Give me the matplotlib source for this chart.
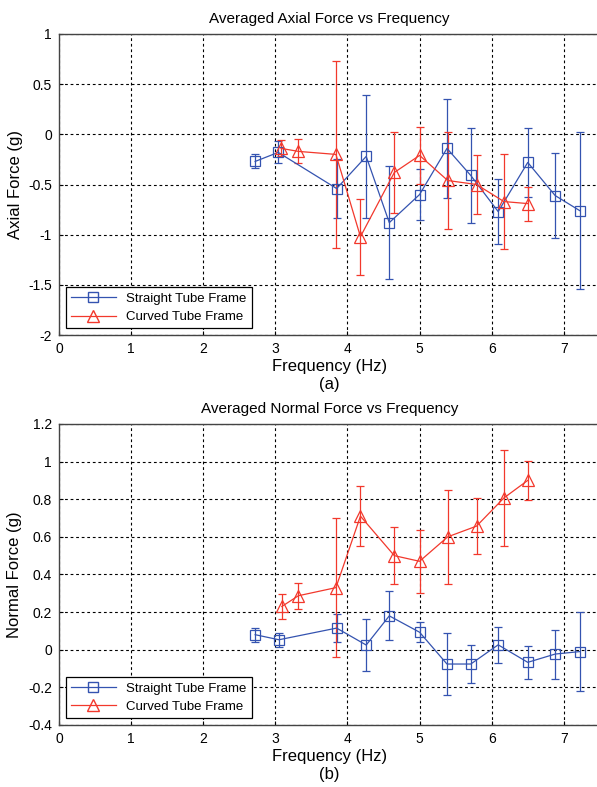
import matplotlib; matplotlib.use("Agg")
import matplotlib.pyplot as plt
from matplotlib.lines import Line2D

plt.rcParams["font.family"] = ["Liberation Sans", "DejaVu Sans"]

BLUE, RED = "#3453b0", "#f2382c"

# (a) axial force
ax_f_straight = [2.72, 3.04, 3.85, 4.26, 4.58, 5.00, 5.38, 5.71, 6.09, 6.50, 6.88, 7.22]
ax_straight = [-0.27, -0.18, -0.54, -0.22, -0.88, -0.60, -0.14, -0.41, -0.77, -0.28, -0.61, -0.76]
ax_straight_err = [0.07, 0.11, 0.29, 0.61, 0.56, 0.25, 0.49, 0.47, 0.32, 0.34, 0.42, 0.78]
ax_f_curved = [3.08, 3.32, 3.84, 4.18, 4.65, 5.00, 5.39, 5.79, 6.17, 6.50]
ax_curved = [-0.14, -0.17, -0.20, -1.02, -0.38, -0.21, -0.46, -0.50, -0.67, -0.69]
ax_curved_err = [0.08, 0.12, 0.93, 0.38, 0.40, 0.28, 0.48, 0.29, 0.47, 0.17]

# (b) normal force
nm_f_straight = [2.72, 3.05, 3.85, 4.26, 4.58, 5.00, 5.38, 5.71, 6.09, 6.50, 6.88, 7.22]
nm_straight = [0.08, 0.053, 0.115, 0.025, 0.18, 0.093, -0.076, -0.076, 0.026, -0.067, -0.023, -0.01]
nm_straight_err = [0.037, 0.037, 0.073, 0.137, 0.13, 0.053, 0.165, 0.10, 0.095, 0.087, 0.13, 0.21]
nm_f_curved = [3.09, 3.32, 3.84, 4.18, 4.65, 5.00, 5.39, 5.79, 6.17, 6.50]
nm_curved = [0.23, 0.287, 0.33, 0.71, 0.50, 0.47, 0.60, 0.657, 0.807, 0.90]
nm_curved_err = [0.066, 0.069, 0.37, 0.16, 0.15, 0.167, 0.25, 0.15, 0.255, 0.103]

LABELS = ["Straight Tube Frame", "Curved Tube Frame"]


def panel(ax, fs, s, se, fc, c, ce, title, ylabel, ylim, yticks, tag):
    kw = dict(lw=0.9, elinewidth=0.9, capsize=3, capthick=0.9, mfc="none", mew=0.9)
    ax.errorbar(fs, s, yerr=se, color=BLUE, marker="s", ms=7, **kw)
    ax.errorbar(fc, c, yerr=ce, color=RED, marker="^", ms=8, **kw)
    ax.set_xlim(0, 7.5); ax.set_ylim(*ylim)
    ax.set_xticks(range(8)); ax.set_yticks(yticks)
    ax.set_yticklabels([f"{t:g}" for t in yticks])
    ax.tick_params(direction="in", labelsize=10, length=3, pad=5)
    ax.grid(True, color="black", ls=(0, (2.5, 2.5)), lw=0.8)
    for sp in ax.spines.values():
        sp.set_color("#444444"); sp.set_linewidth(1.0)
    ax.set_title(title, fontsize=11, pad=8)
    ax.set_ylabel(ylabel, fontsize=12, labelpad=4)
    ax.set_xlabel(f"Frequency (Hz)\n{tag}", fontsize=12, labelpad=2, linespacing=1.25)
    hs = [Line2D([], [], color=BLUE, marker="s", ms=7, mfc="none", lw=0.9),
          Line2D([], [], color=RED, marker="^", ms=8, mfc="none", lw=0.9)]
    leg = ax.legend(hs, LABELS, loc="lower left", fontsize=9.5, fancybox=False, framealpha=1,
                    edgecolor="black", borderaxespad=0.5, handlelength=3.4, labelspacing=0.45)
    leg.get_frame().set_linewidth(0.9)


fig = plt.figure(figsize=(5.97, 7.87), dpi=100)
ax1 = fig.add_axes([0.0988, 0.5743, 0.906, 0.3825])
ax2 = fig.add_axes([0.0988, 0.0788, 0.906, 0.3825])
panel(ax1, ax_f_straight, ax_straight, ax_straight_err, ax_f_curved, ax_curved, ax_curved_err,
      "Averaged Axial Force vs Frequency", "Axial Force (g)", (-2, 1),
      [-2, -1.5, -1, -0.5, 0, 0.5, 1], "(a)")
panel(ax2, nm_f_straight, nm_straight, nm_straight_err, nm_f_curved, nm_curved, nm_curved_err,
      "Averaged Normal Force vs Frequency", "Normal Force (g)", (-0.4, 1.2),
      [-0.4, -0.2, 0, 0.2, 0.4, 0.6, 0.8, 1, 1.2], "(b)")
fig.savefig("out.png", dpi=100)
